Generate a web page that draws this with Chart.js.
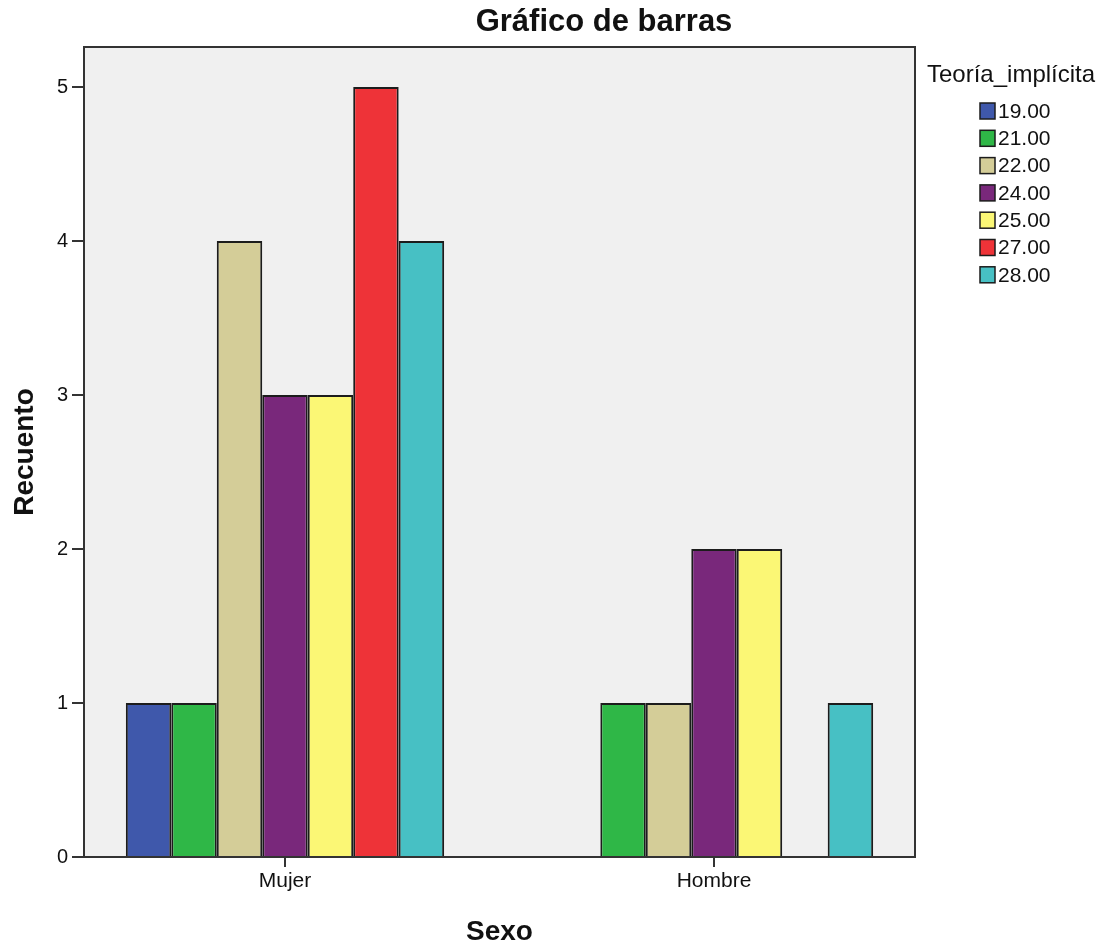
<!DOCTYPE html>
<html>
<head>
<meta charset="utf-8">
<script src="https://cdn.jsdelivr.net/npm/chart.js@4/dist/chart.umd.min.js"></script>
<style>
  body { margin: 0; background: #fff; }
  #wrap { width: 1115px; height: 949px; }
</style>
</head>
<body>
<div id="wrap"><canvas id="barChart" width="1115" height="949"></canvas></div>
<script>
// Sexo categories on the x axis
const categories = ["Mujer", "Hombre"];
// Teoria_implicita groups
const groupLabels = ["19.00", "21.00", "22.00", "24.00", "25.00", "27.00", "28.00"];
const groupColors = ["#3f58ab", "#2fb747", "#d4cd98", "#79287b", "#fbf775", "#ee3338", "#47c0c4"];
// counts per group: [Mujer, Hombre]
const counts19 = [1, null];
const counts21 = [1, 1];
const counts22 = [4, 1];
const counts24 = [3, 2];
const counts25 = [3, 2];
const counts27 = [5, null];
const counts28 = [4, 1];
const yTicks = [0, 1, 2, 3, 4, 5];

const allCounts = [counts19, counts21, counts22, counts24, counts25, counts27, counts28];
const FONT = "'Liberation Sans', Arial, sans-serif";

const datasets = groupLabels.map((lbl, i) => ({
    label: lbl,
    data: allCounts[i].map((v, j) => ({ x: j, y: v })),
    backgroundColor: groupColors[i],
    borderColor: "#1c1c1c",
    borderWidth: 2,
    categoryPercentage: 0.742,
    barPercentage: 1.0
}));

// Grey plot background and frame
const plotFrame = {
    id: "plotFrame",
    beforeDraw(chart) {
        const { ctx, chartArea: a } = chart;
        ctx.save();
        ctx.fillStyle = "#f0f0f0";
        ctx.fillRect(a.left, a.top, a.right - a.left, a.bottom - a.top);
        ctx.restore();
    },
    afterDatasetsDraw(chart) {
        const { ctx, chartArea: a } = chart;
        ctx.save();
        ctx.strokeStyle = "#333";
        ctx.lineWidth = 2;
        ctx.beginPath();
        ctx.moveTo(a.left, a.top);
        ctx.lineTo(a.right, a.top);
        ctx.lineTo(a.right, a.bottom);
        ctx.stroke();
        ctx.restore();
    }
};

// Title and legend in the SPSS style
const titleLegend = {
    id: "titleLegend",
    afterDraw(chart) {
        const ctx = chart.ctx;
        ctx.save();
        ctx.fillStyle = "#111";
        ctx.textBaseline = "middle";
        ctx.textAlign = "center";
        ctx.font = "bold 31px " + FONT;
        ctx.fillText("Gráfico de barras", 604, 22);

        ctx.textAlign = "left";
        ctx.font = "24px " + FONT;
        ctx.fillText("Teoría_implícita", 927, 75);

        ctx.font = "21px " + FONT;
        chart.data.datasets.forEach((ds, i) => {
            const y = 111 + i * 27.3;
            ctx.fillStyle = ds.backgroundColor;
            ctx.fillRect(980, y - 8, 15, 16);
            ctx.strokeStyle = "#1c1c1c";
            ctx.lineWidth = 1.5;
            ctx.strokeRect(980, y - 8, 15, 16);
            ctx.fillStyle = "#111";
            ctx.fillText(ds.label, 998, y + 1);
        });
        ctx.restore();
    }
};

new Chart(document.getElementById("barChart"), {
    type: "bar",
    data: { datasets: datasets },
    plugins: [plotFrame, titleLegend],
    options: {
        responsive: false,
        animation: false,
        layout: { padding: { top: 47, right: 200, left: 0, bottom: 0 } },
        plugins: {
            legend: { display: false },
            tooltip: { enabled: false }
        },
        scales: {
            x: {
                type: "linear",
                offset: false,
                min: -0.4685,
                max: 1.4685,
                afterFit(scale) { scale.height = 92; },
                afterBuildTicks(scale) {
                    scale.ticks = categories.map((c, i) => ({ value: i }));
                },
                ticks: {
                    callback: (v) => categories[v],
                    color: "#111",
                    font: { family: FONT, size: 21 },
                    padding: 2,
                    maxRotation: 0
                },
                grid: { offset: false, drawOnChartArea: false, drawTicks: true, tickLength: 10, color: "#333", lineWidth: 2 },
                border: { display: true, color: "#333", width: 2 },
                title: {
                    display: true,
                    text: "Sexo",
                    color: "#111",
                    font: { family: FONT, size: 28, weight: "bold" },
                    padding: { top: 0, bottom: 0 }
                }
            },
            y: {
                min: 0,
                max: 5.26,
                afterFit(scale) { scale.width = 84; },
                afterBuildTicks(scale) {
                    scale.ticks = yTicks.map(v => ({ value: v }));
                },
                ticks: {
                    color: "#111",
                    font: { family: FONT, size: 20 },
                    padding: 4
                },
                grid: { drawOnChartArea: false, drawTicks: true, tickLength: 12, color: "#333", lineWidth: 2 },
                border: { display: true, color: "#333", width: 2 },
                title: {
                    display: true,
                    text: "Recuento",
                    color: "#111",
                    font: { family: FONT, size: 28, weight: "bold" },
                    padding: { top: 8, bottom: 0 }
                }
            }
        }
    }
});
</script>
</body>
</html>
